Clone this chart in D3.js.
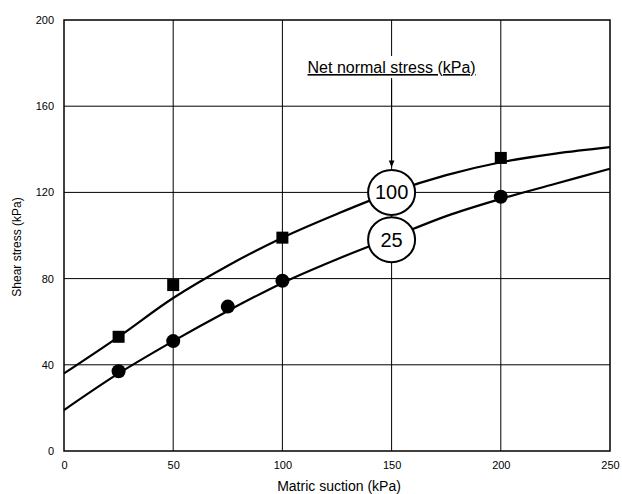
<!DOCTYPE html>
<html>
<head>
<meta charset="utf-8">
<script src="https://cdn.jsdelivr.net/npm/d3@7"></script>
<style>
body { margin:0; background:#fff; }
text { font-family: "Liberation Sans", Arial, sans-serif; fill:#000; }
</style>
</head>
<body>
<div id="chart"></div>
<script>
// measured points
var suction100 = [25, 50, 100, 200];
var shear100 = [53, 77, 99, 136];
var suction25 = [25, 50, 75, 100, 200];
var shear25 = [37, 51, 67, 79, 118];

// fitted curves
var curveX = [0, 25, 50, 75, 100, 125, 150, 175, 200, 225, 250];
var curve100 = [36, 53, 71, 86, 99, 110, 120, 128, 134, 138, 141];
var curve25 = [19, 36, 51, 65, 78, 89, 99, 109, 117, 124, 131];

var xTicks = [0, 50, 100, 150, 200, 250];
var yTicks = [0, 40, 80, 120, 160, 200];
var stressLabels = ["100", "25"];
var labelAt = 150;

var draw = function(){
	var svg = d3.select("#chart").append("svg").attr("width", 622).attr("height", 494).append("g");
	var x = d3.scaleLinear().domain([0, 250]).range([64, 610]);
	var y = d3.scaleLinear().domain([0, 200]).range([451, 20]);

	var xAxis = d3.axisBottom(x).tickValues(xTicks).tickSize(0).tickPadding(10);
	var yAxis = d3.axisLeft(y).tickValues(yTicks).tickSize(0).tickPadding(10);

	// grid
	svg.append("g").selectAll(".vg").data(xTicks.slice(1, -1)).enter()
		.append("line").attr("x1", function(d){ return x(d); }).attr("x2", function(d){ return x(d); })
		.attr("y1", y(0)).attr("y2", y(200)).attr("stroke", "#000").attr("stroke-width", 1);
	svg.append("g").selectAll(".hg").data(yTicks.slice(1, -1)).enter()
		.append("line").attr("y1", function(d){ return y(d); }).attr("y2", function(d){ return y(d); })
		.attr("x1", x(0)).attr("x2", x(250)).attr("stroke", "#000").attr("stroke-width", 1);

	// frame
	svg.append("rect").attr("x", x(0)).attr("y", y(200)).attr("width", x(250) - x(0)).attr("height", y(0) - y(200))
		.attr("fill", "none").attr("stroke", "#000").attr("stroke-width", 1.5);

	var gx = svg.append("g").attr("class", "x axis").attr("transform", "translate(0," + y(0) + ")").call(xAxis);
	var gy = svg.append("g").attr("class", "y axis").attr("transform", "translate(" + x(0) + ",0)").call(yAxis);
	gx.select(".domain").remove();
	gy.select(".domain").remove();
	svg.selectAll(".tick text").style("font-family", "Liberation Sans, Arial, sans-serif").style("font-size", "11px").attr("fill", "#000");

	svg.append("text").attr("text-anchor", "middle").style("font-size", "14px")
		.attr("transform", "translate(339,491)").text("Matric suction (kPa)");
	svg.append("text").attr("text-anchor", "middle").style("font-size", "12px")
		.attr("transform", "translate(21,247) rotate(-90)").text("Shear stress (kPa)");

	var line = d3.line()
		.curve(d3.curveCatmullRom)
		.x(function(d){ return x(d[0]); })
		.y(function(d){ return y(d[1]); });

	[curve100, curve25].forEach(function(c){
		svg.append("path").datum(curveX.map(function(v, i){ return [v, c[i]]; }))
			.attr("fill", "none").attr("stroke", "#000").attr("stroke-width", 2.2).attr("d", line);
	});

	// markers
	svg.append("g").selectAll(".sq").data(suction100).enter()
		.append("rect").attr("x", function(d){ return x(d) - 6; })
		.attr("y", function(d, i){ return y(shear100[i]) - 6; })
		.attr("width", 12).attr("height", 12).attr("fill", "#000");
	svg.append("g").selectAll(".ci").data(suction25).enter()
		.append("circle").attr("cx", function(d){ return x(d); })
		.attr("cy", function(d, i){ return y(shear25[i]); })
		.attr("r", 7).attr("fill", "#000");

	// annotation
	var ax = x(labelAt);
	var ly100 = y(curve100[curveX.indexOf(labelAt)]);
	var ly25 = y(curve25[curveX.indexOf(labelAt)]);
	svg.append("rect").attr("x", 302).attr("y", 56).attr("width", 180).attr("height", 24).attr("fill", "#fff");
	svg.append("text").attr("x", ax).attr("y", 73).attr("text-anchor", "middle")
		.style("font-size", "16px").style("text-decoration", "underline").text("Net normal stress (kPa)");

	svg.append("defs").append("marker").attr("id", "arr").attr("viewBox", "0 0 10 10")
		.attr("refX", 10).attr("refY", 5).attr("markerWidth", 7).attr("markerHeight", 7)
		.attr("orient", "auto").append("path").attr("d", "M0,1 L10,5 L0,9 Z").attr("fill", "#000");
	svg.append("line").attr("x1", ax).attr("x2", ax).attr("y1", 78).attr("y2", ly100 - 25)
		.attr("stroke", "#000").attr("stroke-width", 1).attr("marker-end", "url(#arr)");

	[ly100, ly25 + 2].forEach(function(cy, i){
		svg.append("ellipse").attr("cx", ax).attr("cy", cy).attr("rx", 23.5).attr("ry", 22.5)
			.attr("fill", "#fff").attr("stroke", "#000").attr("stroke-width", 2);
		svg.append("text").attr("x", ax).attr("y", cy + 7).attr("text-anchor", "middle")
			.style("font-size", "20px").text(stressLabels[i]);
	});
};

window.onload = function(){
	draw();
};
</script>
</body>
</html>
